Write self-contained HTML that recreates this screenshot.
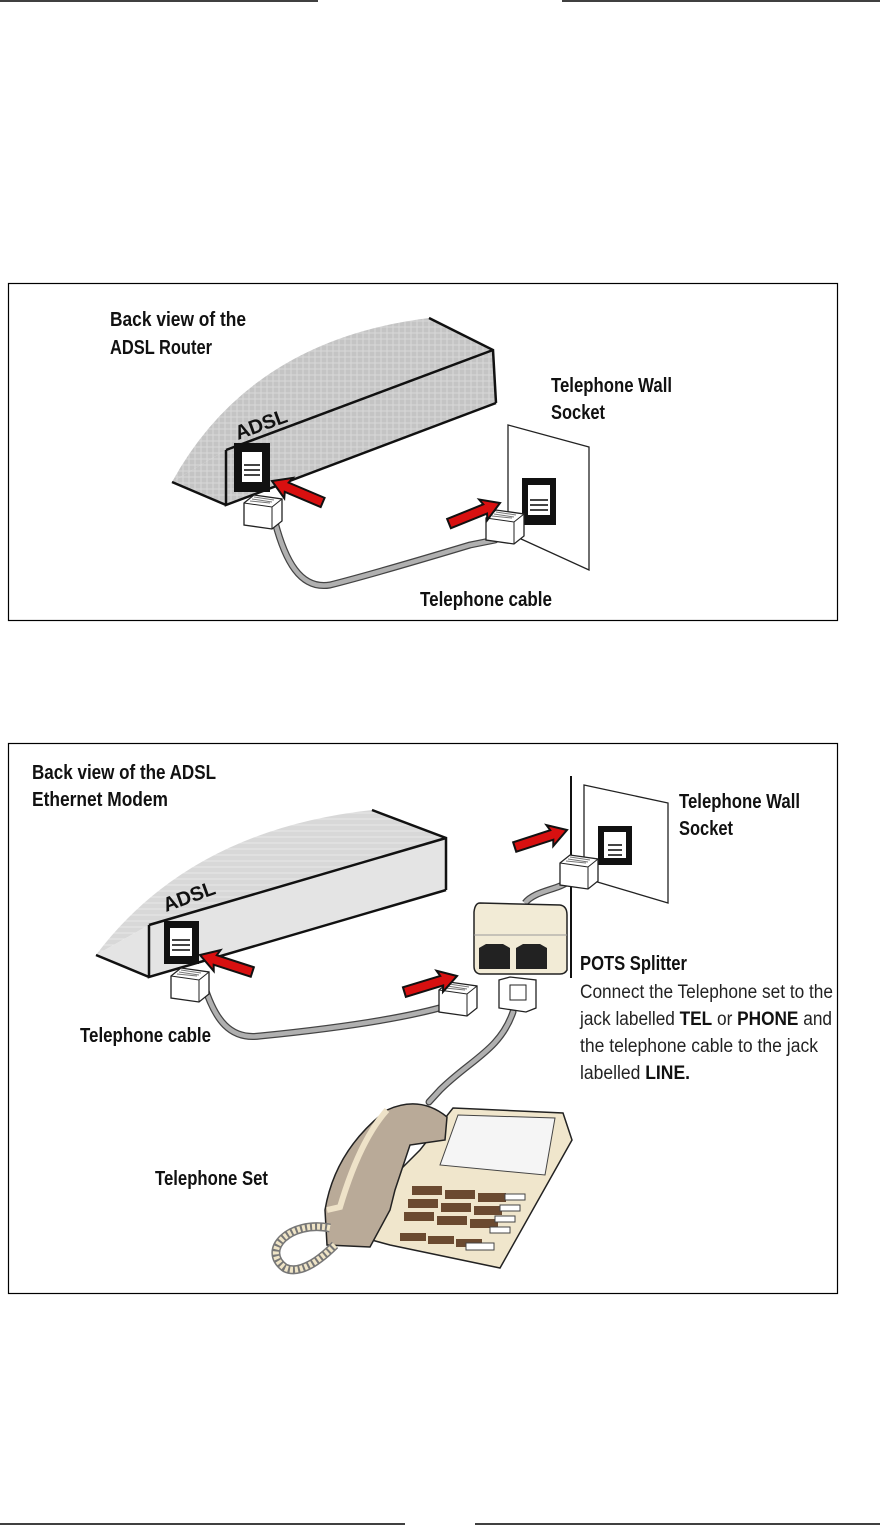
<!DOCTYPE html>
<html><head><meta charset="utf-8"><style>
html,body{margin:0;padding:0;background:#fff;}
svg{display:block;}
.l{font-family:"Liberation Sans",sans-serif;font-weight:bold;font-size:20px;fill:#111;}
.r{font-family:"Liberation Sans",sans-serif;font-size:19px;fill:#222;}
</style></head><body>
<svg width="880" height="1526" viewBox="0 0 880 1526" xmlns="http://www.w3.org/2000/svg">
<defs>
<pattern id="h" width="6" height="6" patternUnits="userSpaceOnUse"><rect width="6" height="6" fill="#c4c4c4"/><path d="M0 3H6M3 0V6" stroke="#d8d8d8" stroke-width="1"/></pattern>
<pattern id="h2" width="6" height="6" patternUnits="userSpaceOnUse"><rect width="6" height="6" fill="#d8d8d8"/><path d="M0 3H6" stroke="#e8e8e8" stroke-width="1"/></pattern>
<g id="plug"><path d="M0 8 L10 0 L38 4 L38 26 L28 34 L0 30Z" fill="#fff" stroke="#222" stroke-width="1.3"/><path d="M0 8 L28 12 L38 4 M28 12 L28 34" fill="none" stroke="#222" stroke-width="1"/><path d="M6 6 L26 8 M8 4 L28 7 M10 2 L30 5" stroke="#777" stroke-width="1"/></g>
<g id="arr"><path d="M0 0 L-18 -11 L-16 -5 L-55 -5 L-55 5 L-16 5 L-18 11Z" fill="#d81010" stroke="#111" stroke-width="2"/></g>
</defs>
<line x1="0" y1="1" x2="318" y2="1" stroke="#000" stroke-width="1.5"/>
<line x1="562" y1="1" x2="880" y2="1" stroke="#000" stroke-width="1.5"/>
<line x1="0" y1="1524" x2="405" y2="1524" stroke="#000" stroke-width="1.5"/>
<line x1="475" y1="1524" x2="880" y2="1524" stroke="#000" stroke-width="1.5"/>

<!-- Box 1 -->
<rect x="8.5" y="283.5" width="829" height="337" fill="none" stroke="#000" stroke-width="1.2"/>
<path d="M172 482 Q250 340 429 318 L493 350 L226 450Z" fill="url(#h)"/>
<path d="M226 450 L493 350 L496 403 L226 505Z" fill="url(#h)"/>
<path d="M172 482 L226 450 L226 505Z" fill="url(#h)"/>
<path d="M429 318 L493 350 L496 403 M226 450 L493 350 M226 450 L226 505 L496 403 M172 482 L226 505" fill="none" stroke="#111" stroke-width="2.5"/>
<rect x="234" y="443" width="36" height="49" fill="#111"/>
<rect x="242" y="452" width="20" height="30" fill="#fff"/>
<path d="M244 465 H260 M244 470 H260 M244 475 H260" stroke="#444" stroke-width="2"/>
<text x="238" y="440" class="l" font-size="21" transform="rotate(-20 238 440)" textLength="54" lengthAdjust="spacingAndGlyphs">ADSL</text>
<path d="M508 425 L589 447 L589 570 L508 533Z" fill="#fff" stroke="#222" stroke-width="1.3"/>
<rect x="522" y="478" width="34" height="47" fill="#111"/>
<rect x="528" y="485" width="22" height="30" fill="#fff"/>
<path d="M530 500 H548 M530 505 H548 M530 510 H548" stroke="#444" stroke-width="2"/>
<path d="M275 522 C285 560 300 590 330 585 C370 575 420 560 470 545 L495 540" fill="none" stroke="#444" stroke-width="7" stroke-linecap="round"/>
<path d="M275 522 C285 560 300 590 330 585 C370 575 420 560 470 545 L495 540" fill="none" stroke="#b0b0b0" stroke-width="4.5" stroke-linecap="round"/>
<use href="#plug" x="244" y="495"/>
<use href="#plug" x="486" y="510"/>
<use href="#arr" transform="translate(272 481) rotate(203)"/>
<use href="#arr" transform="translate(500 503) rotate(-22)"/>
<text x="110" y="326" class="l" textLength="136" lengthAdjust="spacingAndGlyphs">Back view of the</text>
<text x="110" y="354" class="l" textLength="102" lengthAdjust="spacingAndGlyphs">ADSL Router</text>
<text x="551" y="392" class="l" textLength="121" lengthAdjust="spacingAndGlyphs">Telephone Wall</text>
<text x="551" y="419" class="l" textLength="54" lengthAdjust="spacingAndGlyphs">Socket</text>
<text x="420" y="606" class="l" textLength="132" lengthAdjust="spacingAndGlyphs">Telephone cable</text>

<!-- Box 2 -->
<rect x="8.5" y="743.5" width="829" height="550" fill="none" stroke="#000" stroke-width="1.2"/>
<path d="M96 955 Q190 830 372 810 L446 838 L149 925Z" fill="url(#h2)"/>
<path d="M149 925 L446 838 L446 890 L149 977Z" fill="#e4e4e4"/>
<path d="M96 955 L149 925 L149 977Z" fill="#e4e4e4"/>
<path d="M372 810 L446 838 L446 890 M149 925 L446 838 M149 925 L149 977 L446 890 M96 955 L149 977" fill="none" stroke="#111" stroke-width="2.5"/>
<rect x="164" y="921" width="35" height="43" fill="#111"/>
<rect x="170" y="928" width="22" height="28" fill="#fff"/>
<path d="M172 940 H190 M172 945 H190 M172 950 H190" stroke="#444" stroke-width="2"/>
<text x="166" y="912" class="l" font-size="21" transform="rotate(-20 166 912)" textLength="54" lengthAdjust="spacingAndGlyphs">ADSL</text>
<line x1="571" y1="776" x2="571" y2="978" stroke="#111" stroke-width="2"/>
<path d="M584 785 L668 803 L668 903 L584 878Z" fill="#fff" stroke="#222" stroke-width="1.3"/>
<rect x="598" y="826" width="34" height="39" fill="#111"/>
<rect x="604" y="832" width="22" height="26" fill="#fff"/>
<path d="M608 845 H622 M608 850 H622 M608 855 H622" stroke="#444" stroke-width="2"/>
<path d="M204 985 C215 1020 230 1040 260 1036 C320 1030 400 1020 450 1005" fill="none" stroke="#444" stroke-width="7" stroke-linecap="round"/>
<path d="M204 985 C215 1020 230 1040 260 1036 C320 1030 400 1020 450 1005" fill="none" stroke="#b0b0b0" stroke-width="4.5" stroke-linecap="round"/>
<path d="M513 1012 C500 1050 470 1060 440 1090 L429 1102" fill="none" stroke="#444" stroke-width="7" stroke-linecap="round"/>
<path d="M513 1012 C500 1050 470 1060 440 1090 L429 1102" fill="none" stroke="#b0b0b0" stroke-width="4.5" stroke-linecap="round"/>
<path d="M525 903 C535 890 560 890 570 880" fill="none" stroke="#444" stroke-width="7"/>
<path d="M525 903 C535 890 560 890 570 880" fill="none" stroke="#b0b0b0" stroke-width="4.5"/>
<use href="#plug" x="560" y="855"/>
<path d="M480 903 L560 905 Q567 906 567 915 L567 970 Q565 974 560 974 L480 974 Q474 973 474 966 L474 912 Q475 903 480 903Z" fill="#f2ebd6" stroke="#222" stroke-width="1.5"/>
<path d="M474 935 L567 935" stroke="#999" stroke-width="1"/>
<path d="M479 948 L486 944 L503 944 L510 948 L510 969 L479 969Z" fill="#222"/>
<path d="M516 948 L523 944 L540 944 L547 948 L547 969 L516 969Z" fill="#222"/>
<path d="M499 980 L510 977 L536 980 L536 1008 L526 1012 L499 1008Z" fill="#fff" stroke="#222" stroke-width="1.3"/>
<path d="M510 985 L526 985 L526 1000 L510 1000Z" fill="none" stroke="#222"/>
<use href="#plug" x="171" y="968"/>
<use href="#plug" x="439" y="982"/>
<use href="#arr" transform="translate(200 955) rotate(198)"/>
<use href="#arr" transform="translate(457 976) rotate(-17)"/>
<use href="#arr" transform="translate(567 830) rotate(-18)"/>
<!-- phone -->
<path d="M453 1108 L563 1113 L572 1140 L500 1268 L390 1245 L335 1230 L370 1200 L420 1150Z" fill="#f0e6cc" stroke="#222" stroke-width="1.5"/>
<path d="M458 1115 L555 1118 L545 1175 L440 1165Z" fill="#f5f5f5" stroke="#444"/>
<path d="M387 1110 Q420 1095 447 1117 L445 1140 L410 1145 L395 1190 L390 1210 L370 1247 L327 1245 L325 1210 Q335 1150 387 1110Z" fill="#b9aa98" stroke="#222" stroke-width="1.5"/>
<path d="M387 1110 Q360 1140 340 1207 L327 1210" fill="none" stroke="#eee2c8" stroke-width="6"/>
<g fill="#6b4a30"><rect x="412" y="1186" width="30" height="9"/><rect x="445" y="1190" width="30" height="9"/><rect x="478" y="1193" width="28" height="9"/><rect x="408" y="1199" width="30" height="9"/><rect x="441" y="1203" width="30" height="9"/><rect x="474" y="1206" width="28" height="9"/><rect x="404" y="1212" width="30" height="9"/><rect x="437" y="1216" width="30" height="9"/><rect x="470" y="1219" width="28" height="9"/><rect x="400" y="1233" width="26" height="8"/><rect x="428" y="1236" width="26" height="8"/><rect x="456" y="1239" width="26" height="8"/></g>
<g fill="#fff" stroke="#444"><rect x="505" y="1194" width="20" height="6"/><rect x="500" y="1205" width="20" height="6"/><rect x="495" y="1216" width="20" height="6"/><rect x="490" y="1227" width="20" height="6"/><rect x="466" y="1243" width="28" height="7"/></g>
<path d="M330 1228 C290 1220 260 1250 285 1268 C300 1275 320 1260 335 1245" fill="none" stroke="#777" stroke-width="9"/>
<path d="M330 1228 C290 1220 260 1250 285 1268 C300 1275 320 1260 335 1245" fill="none" stroke="#efe4c6" stroke-width="6" stroke-dasharray="3 2"/>
<text x="32" y="779" class="l" textLength="184" lengthAdjust="spacingAndGlyphs">Back view of the ADSL</text>
<text x="32" y="806" class="l" textLength="136" lengthAdjust="spacingAndGlyphs">Ethernet Modem</text>
<text x="679" y="808" class="l" textLength="121" lengthAdjust="spacingAndGlyphs">Telephone Wall</text>
<text x="679" y="835" class="l" textLength="54" lengthAdjust="spacingAndGlyphs">Socket</text>
<text x="580" y="970" class="l" textLength="107" lengthAdjust="spacingAndGlyphs">POTS Splitter</text>
<text x="580" y="998" class="r" textLength="253" lengthAdjust="spacingAndGlyphs">Connect the Telephone set to the</text>
<text x="580" y="1025" class="r" textLength="252" lengthAdjust="spacingAndGlyphs">jack labelled <tspan font-weight="bold" fill="#111">TEL</tspan> or <tspan font-weight="bold" fill="#111">PHONE</tspan> and</text>
<text x="580" y="1052" class="r" textLength="238" lengthAdjust="spacingAndGlyphs">the telephone cable to the jack</text>
<text x="580" y="1079" class="r" textLength="110" lengthAdjust="spacingAndGlyphs">labelled <tspan font-weight="bold" fill="#111">LINE.</tspan></text>
<text x="80" y="1042" class="l" textLength="131" lengthAdjust="spacingAndGlyphs">Telephone cable</text>
<text x="155" y="1185" class="l" textLength="113" lengthAdjust="spacingAndGlyphs">Telephone Set</text>
</svg>
</body></html>
